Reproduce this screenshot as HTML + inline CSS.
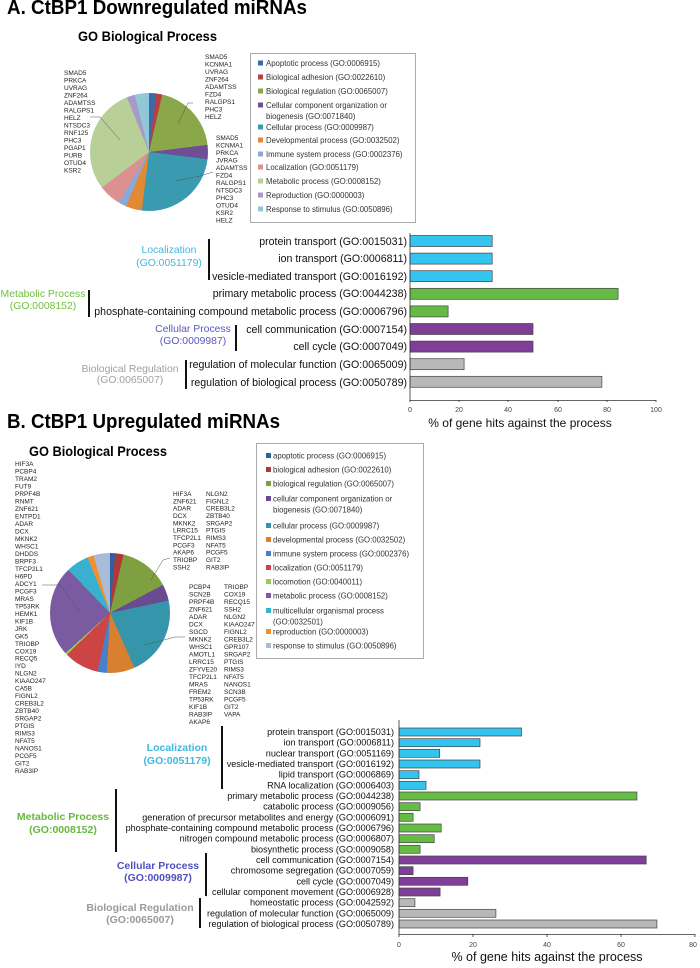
<!DOCTYPE html>
<html><head><meta charset="utf-8"><style>
html,body{margin:0;padding:0;background:#fff;width:700px;height:968px;overflow:hidden}
svg{display:block;font-family:"Liberation Sans",Arial,sans-serif}
.g{font-size:6.5px;fill:#222}
.lg{font-size:7.8px;fill:#333}
.tl{font-size:10.6px;fill:#111;text-anchor:end}
.bl{font-size:9.1px;fill:#111;text-anchor:end}
.ax{font-size:7px;fill:#444;text-anchor:middle}
</style></head><body>
<svg width="700" height="968" viewBox="0 0 700 968" xmlns="http://www.w3.org/2000/svg">
<text x="7" y="14" font-size="20" font-weight="bold" textLength="300" lengthAdjust="spacingAndGlyphs">A. CtBP1 Downregulated miRNAs</text>
<text x="78" y="41" font-size="14" font-weight="bold" textLength="139" lengthAdjust="spacingAndGlyphs">GO Biological Process</text>

<foreignObject x="90" y="93" width="118" height="118"><div xmlns="http://www.w3.org/1999/xhtml" style="width:118px;height:118px;border-radius:50%;background:conic-gradient(#3a6aa8 0deg 7deg,#b84040 7deg 13deg,#8aa84a 13deg 83deg,#6e4f95 83deg 97deg,#3a9ab0 97deg 187deg,#e08a35 187deg 203deg,#8aa8d8 203deg 211deg,#dc9090 211deg 233deg,#b8d098 233deg 338deg,#a89ac8 338deg 346deg,#90c8d8 346deg 360deg)"></div></foreignObject>
<g stroke="#555" stroke-width="0.5" fill="none">
<polyline points="90,117 100,117 120,140"/><polyline points="193,103 188,103 178,124"/><polyline points="213,172 200,176 175,181"/></g>
<text class="g" x="64" y="75"><tspan x="64">SMAD5</tspan><tspan x="64" dy="7.5">PRKCA</tspan><tspan x="64" dy="7.5">UVRAG</tspan><tspan x="64" dy="7.5">ZNF264</tspan><tspan x="64" dy="7.5">ADAMTSS</tspan><tspan x="64" dy="7.5">RALGPS1</tspan><tspan x="64" dy="7.5">HELZ</tspan><tspan x="64" dy="7.5">NTSDC3</tspan><tspan x="64" dy="7.5">RNF125</tspan><tspan x="64" dy="7.5">PHC3</tspan><tspan x="64" dy="7.5">PGAP1</tspan><tspan x="64" dy="7.5">PURB</tspan><tspan x="64" dy="7.5">OTUD4</tspan><tspan x="64" dy="7.5">KSR2</tspan></text>
<text class="g" x="205" y="59"><tspan x="205">SMAD5</tspan><tspan x="205" dy="7.5">KCNMA1</tspan><tspan x="205" dy="7.5">UVRAG</tspan><tspan x="205" dy="7.5">ZNF264</tspan><tspan x="205" dy="7.5">ADAMTSS</tspan><tspan x="205" dy="7.5">FZD4</tspan><tspan x="205" dy="7.5">RALGPS1</tspan><tspan x="205" dy="7.5">PHC3</tspan><tspan x="205" dy="7.5">HELZ</tspan></text>
<text class="g" x="216" y="140"><tspan x="216">SMAD5</tspan><tspan x="216" dy="7.5">KCNMA1</tspan><tspan x="216" dy="7.5">PRKCA</tspan><tspan x="216" dy="7.5">JVRAG</tspan><tspan x="216" dy="7.5">ADAMTSS</tspan><tspan x="216" dy="7.5">FZD4</tspan><tspan x="216" dy="7.5">RALGPS1</tspan><tspan x="216" dy="7.5">NTSDC3</tspan><tspan x="216" dy="7.5">PHC3</tspan><tspan x="216" dy="7.5">OTUD4</tspan><tspan x="216" dy="7.5">KSR2</tspan><tspan x="216" dy="7.5">HELZ</tspan></text>

<rect x="250.5" y="53.5" width="165" height="169" fill="#fff" stroke="#aaa"/>
<g>
<rect x="258" y="60.5" width="5" height="5" fill="#3a6aa8"/><text class="lg" x="266" y="66">Apoptotic process (GO:0006915)</text>
<rect x="258" y="74.5" width="5" height="5" fill="#b84040"/><text class="lg" x="266" y="80">Biological adhesion (GO:0022610)</text>
<rect x="258" y="88.5" width="5" height="5" fill="#8aa84a"/><text class="lg" x="266" y="94">Biological regulation (GO:0065007)</text>
<rect x="258" y="102.5" width="5" height="5" fill="#6e4f95"/><text class="lg" x="266" y="108">Cellular component organization or</text><text class="lg" x="266" y="119">biogenesis (GO:0071840)</text>
<rect x="258" y="124.5" width="5" height="5" fill="#3a9ab0"/><text class="lg" x="266" y="130">Cellular process (GO:0009987)</text>
<rect x="258" y="137.5" width="5" height="5" fill="#e08a35"/><text class="lg" x="266" y="143">Developmental process (GO:0032502)</text>
<rect x="258" y="151.5" width="5" height="5" fill="#8aa8d8"/><text class="lg" x="266" y="157">Immune system process (GO:0002376)</text>
<rect x="258" y="164.5" width="5" height="5" fill="#dc9090"/><text class="lg" x="266" y="170">Localization (GO:0051179)</text>
<rect x="258" y="178.5" width="5" height="5" fill="#b8d098"/><text class="lg" x="266" y="184">Metabolic process (GO:0008152)</text>
<rect x="258" y="192.5" width="5" height="5" fill="#a89ac8"/><text class="lg" x="266" y="198">Reproduction (GO:0000003)</text>
<rect x="258" y="206.5" width="5" height="5" fill="#90c8d8"/><text class="lg" x="266" y="212">Response to stimulus (GO:0050896)</text>
</g>

<!-- top bar chart -->
<g font-size="10.4">
<text x="169" y="253" fill="#40b8e0" text-anchor="middle">Localization</text><text x="169" y="266" fill="#40b8e0" text-anchor="middle">(GO:0051179)</text>
<text x="43" y="297" fill="#70c040" text-anchor="middle">Metabolic Process</text><text x="43" y="309" fill="#70c040" text-anchor="middle">(GO:0008152)</text>
<text x="193" y="332" fill="#5858c0" text-anchor="middle">Cellular Process</text><text x="193" y="344" fill="#5858c0" text-anchor="middle">(GO:0009987)</text>
<text x="130" y="372" fill="#a0a0a0" text-anchor="middle">Biological Regulation</text><text x="130" y="383" fill="#a0a0a0" text-anchor="middle">(GO:0065007)</text>
</g>
<g fill="#111"><rect x="208" y="239" width="2" height="41"/><rect x="88" y="290" width="2" height="27"/><rect x="235" y="325" width="2" height="26"/><rect x="185" y="360" width="2" height="29"/></g>
<g>
<text class="tl" x="407" y="245">protein transport (GO:0015031)</text>
<text class="tl" x="407" y="262">ion transport (GO:0006811)</text>
<text class="tl" x="407" y="280">vesicle-mediated transport (GO:0016192)</text>
<text class="tl" x="407" y="297">primary metabolic process (GO:0044238)</text>
<text class="tl" x="407" y="315">phosphate-containing compound metabolic process (GO:0006796)</text>
<text class="tl" x="407" y="333">cell communication (GO:0007154)</text>
<text class="tl" x="407" y="350">cell cycle (GO:0007049)</text>
<text class="tl" x="407" y="368">regulation of molecular function (GO:0065009)</text>
<text class="tl" x="407" y="386">regulation of biological process (GO:0050789)</text>
</g>
<g stroke="#444" stroke-width="0.7">
<rect x="410" y="235.5" width="82.2" height="11" fill="#33c4f0"/>
<rect x="410" y="253.1" width="82.2" height="11" fill="#33c4f0"/>
<rect x="410" y="270.7" width="82.2" height="11" fill="#33c4f0"/>
<rect x="410" y="288.3" width="208.1" height="11" fill="#66bb44"/>
<rect x="410" y="305.9" width="38.1" height="11" fill="#66bb44"/>
<rect x="410" y="323.5" width="123" height="11" fill="#7f3f98"/>
<rect x="410" y="341.1" width="123" height="11" fill="#7f3f98"/>
<rect x="410" y="358.7" width="54.1" height="11" fill="#b8b8b8"/>
<rect x="410" y="376.3" width="191.9" height="11" fill="#b8b8b8"/>
</g>
<g stroke="#333" stroke-width="0.8" fill="none"><polyline points="410,233 410,400.5 656,400.5"/>
<path d="M410,400v2M459,400v2M508,400v2M558,400v2M607,400v2M656,400v2"/></g>
<g class="ax"><text class="ax" x="410" y="412">0</text><text class="ax" x="459" y="412">20</text><text class="ax" x="508" y="412">40</text><text class="ax" x="558" y="412">60</text><text class="ax" x="607" y="412">80</text><text class="ax" x="656" y="412">100</text></g>
<text x="520" y="427" font-size="12" text-anchor="middle" fill="#111">% of gene hits against the process</text>

<!-- section B -->
<text x="7" y="428" font-size="20" font-weight="bold" textLength="273" lengthAdjust="spacingAndGlyphs">B. CtBP1 Upregulated miRNAs</text>
<text x="29" y="456" font-size="14" font-weight="bold" textLength="138" lengthAdjust="spacingAndGlyphs">GO Biological Process</text>

<foreignObject x="50" y="553" width="120" height="120"><div xmlns="http://www.w3.org/1999/xhtml" style="width:120px;height:120px;border-radius:50%;background:conic-gradient(#2e5fa0 0deg 5deg,#b03838 5deg 13deg,#7fa040 13deg 62deg,#6a4a90 62deg 78deg,#3596ab 78deg 156deg,#d98030 156deg 183deg,#4a80c8 183deg 192deg,#cc4444 192deg 226deg,#9acb50 226deg 228deg,#7a5aa0 228deg 316deg,#38b0d0 316deg 338deg,#f29030 338deg 344deg,#a8bcd8 344deg 360deg)"></div></foreignObject>
<g stroke="#555" stroke-width="0.5" fill="none">
<polyline points="42,585 60,585 80,612"/><polyline points="170,558 163,560 151,580"/><polyline points="185,637 175,637 145,645"/></g>
<text class="g" x="15" y="466"><tspan x="15">HIF3A</tspan><tspan x="15" dy="7.49">PCBP4</tspan><tspan x="15" dy="7.49">TRAM2</tspan><tspan x="15" dy="7.49">FUT9</tspan><tspan x="15" dy="7.49">PRPF4B</tspan><tspan x="15" dy="7.49">RNMT</tspan><tspan x="15" dy="7.49">ZNF621</tspan><tspan x="15" dy="7.49">ENTPD1</tspan><tspan x="15" dy="7.49">ADAR</tspan><tspan x="15" dy="7.49">DCX</tspan><tspan x="15" dy="7.49">MKNK2</tspan><tspan x="15" dy="7.49">WHSC1</tspan><tspan x="15" dy="7.49">DHDDS</tspan><tspan x="15" dy="7.49">BRPF3</tspan><tspan x="15" dy="7.49">TFCP2L1</tspan><tspan x="15" dy="7.49">H6PD</tspan><tspan x="15" dy="7.49">ADCY1</tspan><tspan x="15" dy="7.49">PCGF3</tspan><tspan x="15" dy="7.49">MRAS</tspan><tspan x="15" dy="7.49">TP53RK</tspan><tspan x="15" dy="7.49">HEMK1</tspan><tspan x="15" dy="7.49">KIF1B</tspan><tspan x="15" dy="7.49">JRK</tspan><tspan x="15" dy="7.49">GK5</tspan><tspan x="15" dy="7.49">TRIOBP</tspan><tspan x="15" dy="7.49">COX19</tspan><tspan x="15" dy="7.49">RECQ5</tspan><tspan x="15" dy="7.49">IYD</tspan><tspan x="15" dy="7.49">NLGN2</tspan><tspan x="15" dy="7.49">KIAAO247</tspan><tspan x="15" dy="7.49">CA5B</tspan><tspan x="15" dy="7.49">FIGNL2</tspan><tspan x="15" dy="7.49">CREB3L2</tspan><tspan x="15" dy="7.49">ZBTB40</tspan><tspan x="15" dy="7.49">SRGAP2</tspan><tspan x="15" dy="7.49">PTGIS</tspan><tspan x="15" dy="7.49">RIMS3</tspan><tspan x="15" dy="7.49">NFAT5</tspan><tspan x="15" dy="7.49">NANOS1</tspan><tspan x="15" dy="7.49">PCGF5</tspan><tspan x="15" dy="7.49">GIT2</tspan><tspan x="15" dy="7.49">RAB3IP</tspan></text>
<text class="g" x="173" y="496"><tspan x="173">HIF3A</tspan><tspan x="173" dy="7.33">ZNF621</tspan><tspan x="173" dy="7.33">ADAR</tspan><tspan x="173" dy="7.33">DCX</tspan><tspan x="173" dy="7.33">MKNK2</tspan><tspan x="173" dy="7.33">LRRC15</tspan><tspan x="173" dy="7.33">TFCP2L1</tspan><tspan x="173" dy="7.33">PCGF3</tspan><tspan x="173" dy="7.33">AKAP6</tspan><tspan x="173" dy="7.33">TRIOBP</tspan><tspan x="173" dy="7.33">SSH2</tspan></text>
<text class="g" x="206" y="496"><tspan x="206">NLGN2</tspan><tspan x="206" dy="7.33">FIGNL2</tspan><tspan x="206" dy="7.33">CREB3L2</tspan><tspan x="206" dy="7.33">ZBTB40</tspan><tspan x="206" dy="7.33">SRGAP2</tspan><tspan x="206" dy="7.33">PTGIS</tspan><tspan x="206" dy="7.33">RIMS3</tspan><tspan x="206" dy="7.33">NFAT5</tspan><tspan x="206" dy="7.33">PCGF5</tspan><tspan x="206" dy="7.33">GIT2</tspan><tspan x="206" dy="7.33">RAB3IP</tspan></text>
<text class="g" x="189" y="589"><tspan x="189">PCBP4</tspan><tspan x="189" dy="7.5">SCN2B</tspan><tspan x="189" dy="7.5">PRPF4B</tspan><tspan x="189" dy="7.5">ZNF621</tspan><tspan x="189" dy="7.5">ADAR</tspan><tspan x="189" dy="7.5">DCX</tspan><tspan x="189" dy="7.5">SGCD</tspan><tspan x="189" dy="7.5">MKNK2</tspan><tspan x="189" dy="7.5">WHSC1</tspan><tspan x="189" dy="7.5">AMOTL1</tspan><tspan x="189" dy="7.5">LRRC15</tspan><tspan x="189" dy="7.5">ZFYVE20</tspan><tspan x="189" dy="7.5">TFCP2L1</tspan><tspan x="189" dy="7.5">MRAS</tspan><tspan x="189" dy="7.5">FREM2</tspan><tspan x="189" dy="7.5">TP53RK</tspan><tspan x="189" dy="7.5">KIF1B</tspan><tspan x="189" dy="7.5">RAB3IP</tspan><tspan x="189" dy="7.5">AKAP6</tspan></text>
<text class="g" x="224" y="589"><tspan x="224">TRIOBP</tspan><tspan x="224" dy="7.5">COX19</tspan><tspan x="224" dy="7.5">RECQ15</tspan><tspan x="224" dy="7.5">SSH2</tspan><tspan x="224" dy="7.5">NLGN2</tspan><tspan x="224" dy="7.5">KIAAO247</tspan><tspan x="224" dy="7.5">FIGNL2</tspan><tspan x="224" dy="7.5">CREB3L2</tspan><tspan x="224" dy="7.5">GPR107</tspan><tspan x="224" dy="7.5">SRGAP2</tspan><tspan x="224" dy="7.5">PTGIS</tspan><tspan x="224" dy="7.5">RIMS3</tspan><tspan x="224" dy="7.5">NFAT5</tspan><tspan x="224" dy="7.5">NANOS1</tspan><tspan x="224" dy="7.5">SCN3B</tspan><tspan x="224" dy="7.5">PCGF5</tspan><tspan x="224" dy="7.5">GIT2</tspan><tspan x="224" dy="7.5">VAPA</tspan></text>

<rect x="256.5" y="443.5" width="167" height="215" fill="#fff" stroke="#aaa"/>
<g>
<rect x="266" y="453" width="5" height="5" fill="#2e5fa0"/><text class="lg" x="273" y="458.5">apoptotic process (GO:0006915)</text>
<rect x="266" y="467" width="5" height="5" fill="#b03838"/><text class="lg" x="273" y="472.5">biological adhesion (GO:0022610)</text>
<rect x="266" y="481" width="5" height="5" fill="#7fa040"/><text class="lg" x="273" y="486.5">biological regulation (GO:0065007)</text>
<rect x="266" y="496" width="5" height="5" fill="#6a4a90"/><text class="lg" x="273" y="501.5">cellular component organization or</text><text class="lg" x="273" y="512.5">biogenesis (GO:0071840)</text>
<rect x="266" y="523" width="5" height="5" fill="#3596ab"/><text class="lg" x="273" y="528.5">cellular process (GO:0009987)</text>
<rect x="266" y="537" width="5" height="5" fill="#d98030"/><text class="lg" x="273" y="542.5">developmental process (GO:0032502)</text>
<rect x="266" y="551" width="5" height="5" fill="#4a80c8"/><text class="lg" x="273" y="556.5">immune system process (GO:0002376)</text>
<rect x="266" y="565" width="5" height="5" fill="#cc4444"/><text class="lg" x="273" y="570.5">localization (GO:0051179)</text>
<rect x="266" y="579" width="5" height="5" fill="#9acb50"/><text class="lg" x="273" y="584.5">locomotion (GO:0040011)</text>
<rect x="266" y="593" width="5" height="5" fill="#7a5aa0"/><text class="lg" x="273" y="598.5">metabolic process (GO:0008152)</text>
<rect x="266" y="608" width="5" height="5" fill="#38b0d0"/><text class="lg" x="273" y="613.5">multicellular organismal process</text><text class="lg" x="273" y="624.5">(GO:0032501)</text>
<rect x="266" y="629" width="5" height="5" fill="#f29030"/><text class="lg" x="273" y="634.5">reproduction (GO:0000003)</text>
<rect x="266" y="643" width="5" height="5" fill="#a8bcd8"/><text class="lg" x="273" y="648.5">response to stimulus (GO:0050896)</text>
</g>

<!-- bottom bar chart -->
<g font-size="10.5" font-weight="bold">
<text x="177" y="751" fill="#40b8e0" text-anchor="middle">Localization</text><text x="177" y="764" fill="#40b8e0" text-anchor="middle">(GO:0051179)</text>
<text x="63" y="820" fill="#66b840" text-anchor="middle">Metabolic Process</text><text x="63" y="833" fill="#66b840" text-anchor="middle">(GO:0008152)</text>
<text x="158" y="869" fill="#5050c0" text-anchor="middle">Cellular Process</text><text x="158" y="881" fill="#5050c0" text-anchor="middle">(GO:0009987)</text>
<text x="140" y="911" fill="#999" text-anchor="middle">Biological Regulation</text><text x="140" y="923" fill="#999" text-anchor="middle">(GO:0065007)</text>
</g>
<g fill="#111"><rect x="221" y="726" width="2" height="63"/><rect x="115" y="789" width="2" height="63"/><rect x="205" y="853" width="2" height="43"/><rect x="199" y="898" width="2" height="30"/></g>
<g>
<text class="bl" x="394" y="735">protein transport (GO:0015031)</text>
<text class="bl" x="394" y="745.7">ion transport (GO:0006811)</text>
<text class="bl" x="394" y="756.3">nuclear transport (GO:0051169)</text>
<text class="bl" x="394" y="767">vesicle-mediated transport (GO:0016192)</text>
<text class="bl" x="394" y="777.7">lipid transport (GO:0006869)</text>
<text class="bl" x="394" y="788.3">RNA localization (GO:0006403)</text>
<text class="bl" x="394" y="799">primary metabolic process (GO:0044238)</text>
<text class="bl" x="394" y="809.7">catabolic process (GO:0009056)</text>
<text class="bl" x="394" y="820.3">generation of precursor metabolites and energy (GO:0006091)</text>
<text class="bl" x="394" y="831">phosphate-containing compound metabolic process (GO:0006796)</text>
<text class="bl" x="394" y="841.7">nitrogen compound metabolic process (GO:0006807)</text>
<text class="bl" x="394" y="852.3">biosynthetic process (GO:0009058)</text>
<text class="bl" x="394" y="863">cell communication (GO:0007154)</text>
<text class="bl" x="394" y="873.7">chromosome segregation (GO:0007059)</text>
<text class="bl" x="394" y="884.3">cell cycle (GO:0007049)</text>
<text class="bl" x="394" y="895">cellular component movement (GO:0006928)</text>
<text class="bl" x="394" y="905.7">homeostatic process (GO:0042592)</text>
<text class="bl" x="394" y="916.3">regulation of molecular function (GO:0065009)</text>
<text class="bl" x="394" y="927">regulation of biological process (GO:0050789)</text>
</g>
<g stroke="#444" stroke-width="0.7">
<rect x="399" y="728" width="122.5" height="8" fill="#33c4f0"/>
<rect x="399" y="738.7" width="81" height="8" fill="#33c4f0"/>
<rect x="399" y="749.3" width="40.7" height="8" fill="#33c4f0"/>
<rect x="399" y="760" width="81" height="8" fill="#33c4f0"/>
<rect x="399" y="770.7" width="20" height="8" fill="#33c4f0"/>
<rect x="399" y="781.3" width="27" height="8" fill="#33c4f0"/>
<rect x="399" y="792" width="237.9" height="8" fill="#66bb44"/>
<rect x="399" y="802.7" width="21.1" height="8" fill="#66bb44"/>
<rect x="399" y="813.3" width="14.1" height="8" fill="#66bb44"/>
<rect x="399" y="824" width="42.2" height="8" fill="#66bb44"/>
<rect x="399" y="834.7" width="35.2" height="8" fill="#66bb44"/>
<rect x="399" y="845.3" width="21.1" height="8" fill="#66bb44"/>
<rect x="399" y="856" width="247.2" height="8" fill="#7f3f98"/>
<rect x="399" y="866.7" width="14.1" height="8" fill="#7f3f98"/>
<rect x="399" y="877.3" width="68.8" height="8" fill="#7f3f98"/>
<rect x="399" y="888" width="41.1" height="8" fill="#7f3f98"/>
<rect x="399" y="898.7" width="15.9" height="8" fill="#b8b8b8"/>
<rect x="399" y="909.3" width="96.9" height="8" fill="#b8b8b8"/>
<rect x="399" y="920" width="257.9" height="8" fill="#b8b8b8"/>
</g>
<g stroke="#333" stroke-width="0.8" fill="none"><polyline points="399,720 399,934.5 695,934.5"/>
<path d="M399,934v3M473,934v3M547,934v3M621,934v3M695,934v3"/></g>
<g><text class="ax" x="399" y="947" font-size="8">0</text><text class="ax" x="473" y="947" font-size="8">20</text><text class="ax" x="547" y="947" font-size="8">40</text><text class="ax" x="621" y="947" font-size="8">60</text><text class="ax" x="693" y="947" font-size="8">80</text></g>
<text x="547" y="961" font-size="12.5" text-anchor="middle" fill="#111">% of gene hits against the process</text>
</svg>
</body></html>
